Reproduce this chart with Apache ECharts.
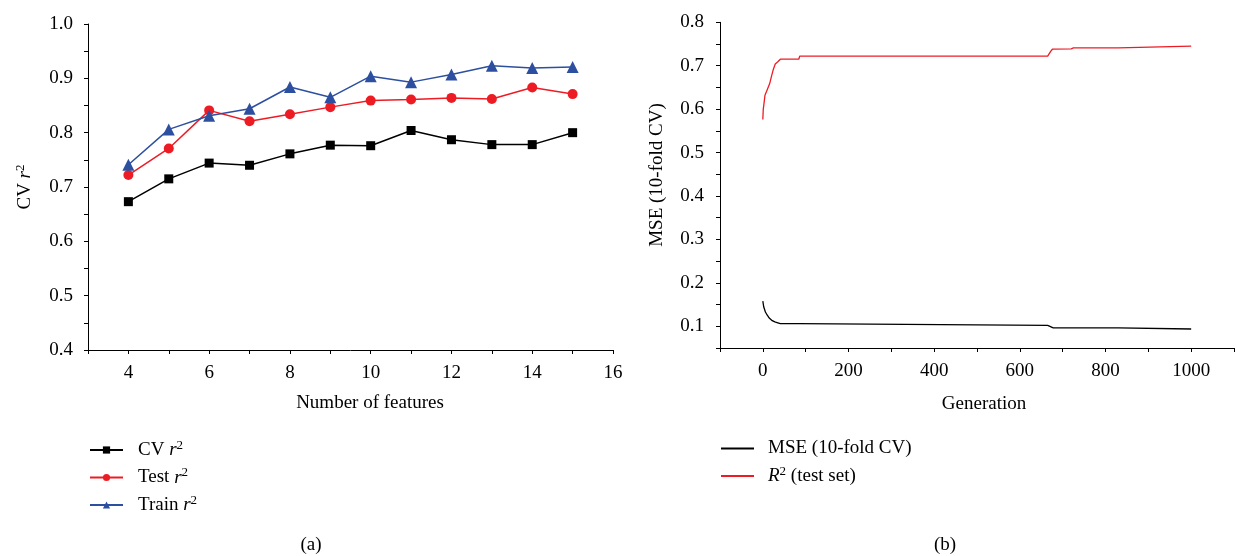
<!DOCTYPE html>
<html>
<head>
<meta charset="utf-8">
<script src="https://cdn.jsdelivr.net/npm/echarts@6/dist/echarts.min.js"></script>
<style>
html,body{margin:0;padding:0;background:#fff;}
#c{width:1237px;height:556px;}
</style>
</head>
<body>
<div id="c"></div>
<script>
// ---- Panel (a) data ----
var features = [4,5,6,7,8,9,10,11,12,13,14,15];
var cvR2    = [0.673,0.715,0.744,0.740,0.761,0.777,0.776,0.804,0.787,0.778,0.778,0.800];
var testR2  = [0.722,0.771,0.841,0.821,0.834,0.847,0.859,0.861,0.864,0.862,0.883,0.871];
var trainR2 = [0.741,0.806,0.831,0.844,0.884,0.865,0.904,0.893,0.907,0.923,0.919,0.921];

// ---- Panel (b) data: [generation, value] ----
var mseCurve = [[0,0.158],[2,0.145],[6,0.133],[10,0.126],[15,0.119],[22,0.113],[28,0.110],[35,0.108],[41,0.1062],
  [84,0.1062],[86,0.1023],[665,0.1023],[678,0.0965],[830,0.0962],[832,0.0938],[1000,0.0938]];
var r2Curve = [[0,0.576],[1,0.600],[2,0.607],[5,0.632],[10,0.644],[16,0.659],[20,0.675],[24,0.690],[29,0.704],[35,0.709],[41,0.715],
  [84,0.715],[86,0.722],[665,0.722],[672,0.733],[676,0.738],[720,0.739],[725,0.741],[830,0.741],[832,0.745],[1000,0.745]];

function zip(xs, ys){ return xs.map(function(x,i){ return [x, ys[i]]; }); }

var FONT = '"Liberation Serif","DejaVu Serif",serif';
var FS = 19;
var axisLineStyle = {color:'#000', width:1};
var chart = echarts.init(document.getElementById('c'), null, {renderer:'canvas'});

var richR = {
  it: {fontFamily: FONT, fontSize: FS, fontStyle: 'italic', color:'#000', lineHeight: 22},
  n: {fontFamily: FONT, fontSize: FS, color:'#000', lineHeight: 22},
  sup: {fontFamily: FONT, fontSize: 13, color:'#000', verticalAlign: 'top', lineHeight: 13}
};

chart.setOption({
  animation: false,
  backgroundColor: '#fff',
  grid: [
    {left: 88, top: 24, width: 525, height: 326},
    {left: 720, top: 22.3, width: 523, height: 325.7}
  ],
  xAxis: [
    {type:'value', gridIndex:0, min:3, max:16, interval:1,
     axisLine:{show:true, onZero:false, lineStyle:axisLineStyle},
     axisTick:{show:true, length:4, lineStyle:axisLineStyle},
     splitLine:{show:false},
     axisLabel:{margin:14, fontFamily:FONT, fontSize:FS, color:'#000',
       formatter:function(v){ return (Math.round(v)%2===0) ? String(Math.round(v)) : ''; }}},
    {type:'value', gridIndex:1, min:-100, max:1100, interval:100,
     axisLine:{show:true, onZero:false, lineStyle:axisLineStyle},
     axisTick:{show:true, length:4, lineStyle:axisLineStyle},
     splitLine:{show:false},
     axisLabel:{margin:14, fontFamily:FONT, fontSize:FS, color:'#000',
       formatter:function(v){ var r=Math.round(v); return (r>=0 && r<=1000 && r%200===0) ? String(r) : ''; }}}
  ],
  yAxis: [
    {type:'value', gridIndex:0, min:0.4, max:1.0, interval:0.05,
     axisLine:{show:true, onZero:false, lineStyle:axisLineStyle},
     axisTick:{show:true, length:4, lineStyle:axisLineStyle},
     splitLine:{show:false},
     axisLabel:{margin:15, fontFamily:FONT, fontSize:FS, color:'#000',
       formatter:function(v){ var r=Math.round(v*100); return (r%10===0) ? (r/100).toFixed(1) : ''; }}},
    {type:'value', gridIndex:1, min:0.05, max:0.8, interval:0.05,
     axisLine:{show:true, onZero:false, lineStyle:axisLineStyle},
     axisTick:{show:true, length:4, lineStyle:axisLineStyle},
     splitLine:{show:false},
     axisLabel:{margin:16, fontFamily:FONT, fontSize:FS, color:'#000',
       formatter:function(v){ var r=Math.round(v*100); return (r%10===0) ? (r/100).toFixed(1) : ''; }}}
  ],
  legend: [
    {orient:'vertical', left:89, top:439, padding:0, itemWidth:33, itemHeight:9, itemGap:7,
     data:['CV','Test','Train'],
     textStyle:{fontFamily:FONT, fontSize:FS, color:'#000', padding:[0,0,0,10], rich:richR},
     formatter:function(name){ return '{n|' + name + ' }{it|r}{sup|2}'; }},
    {orient:'vertical', left:721, top:439, padding:0, itemWidth:33, itemHeight:2, itemGap:7,
     data:[{name:'MSE', icon:'rect'},{name:'R2', icon:'rect'}],
     textStyle:{fontFamily:FONT, fontSize:FS, color:'#000', padding:[0,0,0,9], rich:richR},
     formatter:function(name){ return name==='MSE' ? '{n|MSE (10-fold CV)}' : '{it|R}{sup|2}{n| (test set)}'; }}
  ],
  series: [
    {name:'CV', type:'line', xAxisIndex:0, yAxisIndex:0, data:zip(features,cvR2),
     symbol:'rect', symbolSize:9, color:'#000', lineStyle:{width:1.5, color:'#000'}, itemStyle:{color:'#000'}},
    {name:'Test', type:'line', xAxisIndex:0, yAxisIndex:0, data:zip(features,testR2),
     symbol:'circle', symbolSize:10, color:'#ED1C24', lineStyle:{width:1.5, color:'#ED1C24'}, itemStyle:{color:'#ED1C24'}},
    {name:'Train', type:'line', xAxisIndex:0, yAxisIndex:0, data:zip(features,trainR2),
     symbol:'triangle', symbolSize:12, color:'#2D4FA0', lineStyle:{width:1.5, color:'#2D4FA0'}, itemStyle:{color:'#2D4FA0'}},
    {name:'MSE', type:'line', xAxisIndex:1, yAxisIndex:1, data:mseCurve,
     symbol:'none', color:'#000', lineStyle:{width:1.3, color:'#000'}},
    {name:'R2', type:'line', xAxisIndex:1, yAxisIndex:1, data:r2Curve,
     symbol:'none', color:'#ED1C24', lineStyle:{width:1.3, color:'#ED1C24'}}
  ],
  graphic: [
    {type:'text', x:370, y:403, style:{text:'Number of features', font: FS+'px '+FONT, fill:'#000', align:'center', verticalAlign:'middle'}},
    {type:'text', x:984, y:404, style:{text:'Generation', font: FS+'px '+FONT, fill:'#000', align:'center', verticalAlign:'middle'}},
    {type:'text', x:25, y:187, rotation:Math.PI/2,
     style:{text:'{n|CV }{it|r}{sup|2}', rich:richR, align:'center', verticalAlign:'middle'}},
    {type:'text', x:657, y:175, rotation:Math.PI/2,
     style:{text:'MSE (10-fold CV)', font: FS+'px '+FONT, fill:'#000', align:'center', verticalAlign:'middle'}},
    {type:'text', x:311, y:545, style:{text:'(a)', font: FS+'px '+FONT, fill:'#000', align:'center', verticalAlign:'middle'}},
    {type:'text', x:945, y:545, style:{text:'(b)', font: FS+'px '+FONT, fill:'#000', align:'center', verticalAlign:'middle'}}
  ]
});
</script>
</body>
</html>
